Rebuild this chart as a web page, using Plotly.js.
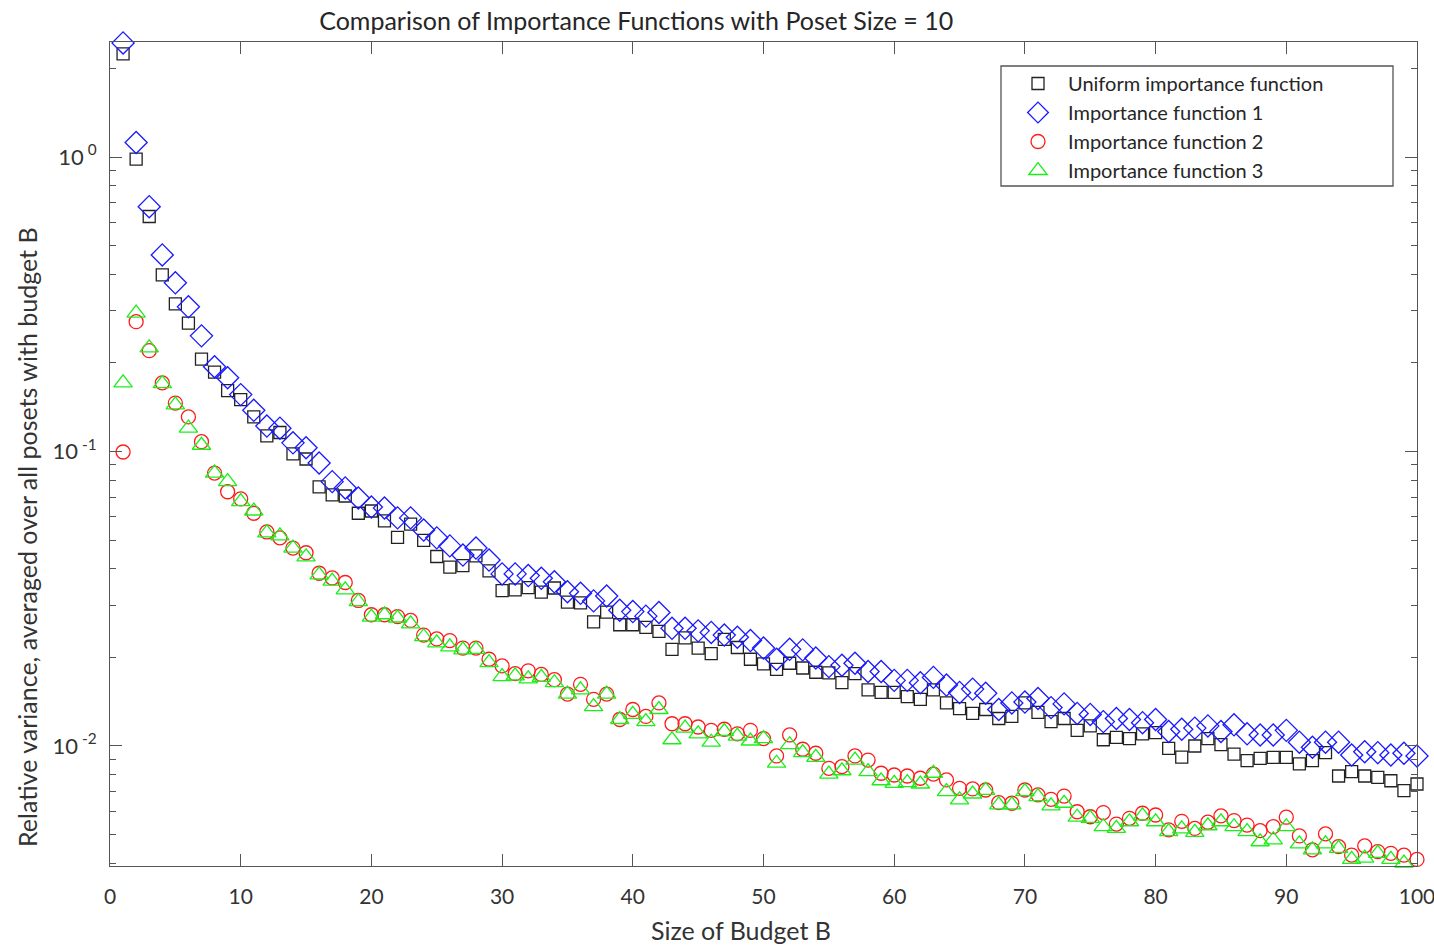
<!DOCTYPE html>
<html>
<head>
<meta charset="utf-8">
<script src="https://cdn.plot.ly/plotly-3.0.1.min.js"></script>
<style>html,body{margin:0;padding:0;background:#fff;}#chart{width:1434px;height:945px;}</style>
</head>
<body>
<div id="chart"></div>
<script>
const budget = [1,2,3,4,5,6,7,8,9,10,11,12,13,14,15,16,17,18,19,20,21,22,23,24,25,26,27,28,29,30,31,32,33,34,35,36,37,38,39,40,41,42,43,44,45,46,47,48,49,50,51,52,53,54,55,56,57,58,59,60,61,62,63,64,65,66,67,68,69,70,71,72,73,74,75,76,77,78,79,80,81,82,83,84,85,86,87,88,89,90,91,92,93,94,95,96,97,98,99,100];

const uniformIF = [2.24,0.984,0.628,0.398,0.317,0.273,0.206,0.186,0.161,0.150,
0.131,0.113,0.116,0.0981,0.0943,0.0758,0.0712,0.0706,0.0617,0.0628,
0.0581,0.0511,0.0567,0.0499,0.0440,0.0405,0.0410,0.0442,0.0393,0.0337,
0.0339,0.0345,0.0333,0.0344,0.0308,0.0306,0.0264,0.0285,0.0258,0.0258,
0.0253,0.0245,0.0213,0.0233,0.0215,0.0206,0.0230,0.0216,0.0197,0.0190,
0.0182,0.0191,0.0184,0.0178,0.0177,0.0164,0.0176,0.0155,0.0152,0.0152,
0.0147,0.0144,0.0155,0.0140,0.0134,0.0129,0.0133,0.0124,0.0126,0.0140,
0.0130,0.0121,0.0124,0.0113,0.0117,0.0105,0.0107,0.0106,0.0110,0.0111,
0.00982,0.00917,0.0100,0.0106,0.0101,0.00939,0.00892,0.00908,0.00915,0.00915,
0.00869,0.00892,0.00949,0.00791,0.00818,0.00791,0.00783,0.00762,0.00705,0.00743];

const importance1 = [2.44,1.12,0.678,0.465,0.374,0.310,0.247,0.194,0.178,0.156,
0.138,0.122,0.120,0.107,0.103,0.0914,0.0790,0.0752,0.0695,0.0648,
0.0643,0.0595,0.0595,0.0541,0.0509,0.0478,0.0445,0.0470,0.0428,0.0384,
0.0384,0.0379,0.0371,0.0361,0.0334,0.0330,0.0311,0.0323,0.0289,0.0286,
0.0276,0.0284,0.0251,0.0251,0.0246,0.0243,0.0238,0.0234,0.0228,0.0215,
0.0197,0.0213,0.0212,0.0199,0.0186,0.0188,0.0191,0.0179,0.0179,0.0167,
0.0167,0.0164,0.0171,0.0161,0.0152,0.0156,0.0151,0.0133,0.0140,0.0141,
0.0145,0.0135,0.0139,0.0129,0.0128,0.0121,0.0124,0.0123,0.0120,0.0123,
0.0112,0.0114,0.0115,0.0117,0.0112,0.0118,0.0110,0.0109,0.0109,0.0113,
0.0103,0.00990,0.0103,0.0103,0.00932,0.00956,0.00949,0.00932,0.00945,0.00925];

const importance2 = [0.0996,0.276,0.220,0.171,0.146,0.131,0.108,0.0845,0.0730,0.0690,
0.0617,0.0533,0.0509,0.0470,0.0453,0.0386,0.0372,0.0359,0.0312,0.0279,
0.0279,0.0275,0.0267,0.0238,0.0231,0.0228,0.0215,0.0215,0.0197,0.0187,
0.0176,0.0180,0.0175,0.0168,0.0150,0.0162,0.0144,0.0150,0.0123,0.0133,
0.0126,0.0140,0.0119,0.0119,0.0116,0.0113,0.0114,0.0110,0.0113,0.0106,
0.00925,0.0109,0.00975,0.00945,0.00840,0.00851,0.00925,0.00896,0.00808,0.00797,
0.00791,0.00777,0.00803,0.00767,0.00718,0.00715,0.00709,0.00642,0.00639,0.00709,
0.00682,0.00659,0.00676,0.00598,0.00575,0.00594,0.00543,0.00568,0.00591,0.00583,
0.00519,0.00555,0.00525,0.00551,0.00579,0.00558,0.00539,0.00516,0.00532,0.00573,
0.00495,0.00444,0.00503,0.00455,0.00426,0.00458,0.00438,0.00432,0.00426,0.00412];

const importance3 = [0.171,0.295,0.225,0.170,0.144,0.120,0.105,0.0845,0.0790,0.0676,
0.0628,0.0529,0.0517,0.0470,0.0439,0.0381,0.0363,0.0339,0.0309,0.0274,
0.0279,0.0272,0.0260,0.0235,0.0224,0.0217,0.0212,0.0213,0.0192,0.0172,
0.0173,0.0169,0.0171,0.0164,0.0150,0.0155,0.0136,0.0150,0.0123,0.0128,
0.0121,0.0133,0.0105,0.0115,0.0110,0.0103,0.0112,0.0108,0.0104,0.0106,
0.00874,0.0101,0.00949,0.00915,0.00803,0.00824,0.00896,0.00818,0.00762,0.00747,
0.00751,0.00743,0.00808,0.00700,0.00656,0.00687,0.00707,0.00631,0.00631,0.00700,
0.00673,0.00626,0.00639,0.00573,0.00568,0.00532,0.00525,0.00553,0.00579,0.00553,
0.00512,0.00523,0.00509,0.00536,0.00553,0.00532,0.00512,0.00473,0.00480,0.00532,
0.00465,0.00444,0.00465,0.00449,0.00412,0.00416,0.00432,0.00412,0.00400,0.00389];

const seriesNames = ["Uniform importance function","Importance function 1","Importance function 2","Importance function 3"];
const xTickVals = [0,10,20,30,40,50,60,70,80,90,100];
const yTickVals = [0.01,0.1,1];
const yTickText = ["10<sup> -2</sup>","10<sup> -1</sup>","10<sup> 0</sup>"];
const yMinorVals = [0.004,0.005,0.006,0.007,0.008,0.009,0.02,0.03,0.04,0.05,0.06,0.07,0.08,0.09,0.2,0.3,0.4,0.5,0.6,0.7,0.8,0.9,2];

const FONT = "Lato, 'Noto Sans', sans-serif";

function mk(y, name, symbol, color, size){
  return {x: budget, y: y, name: name, type: 'scatter', mode: 'markers', cliponaxis: false,
    marker: {symbol: symbol, size: size, color: color, line: {color: color, width: 1.3}},
    hoverinfo: 'skip'};
}

const data = [
  mk(uniformIF, seriesNames[0], 'square-open', '#222222', 12),
  mk(importance1, seriesNames[1], 'diamond-open', '#1a1aff', 17),
  mk(importance2, seriesNames[2], 'circle-open', '#ff1a1a', 14),
  mk(importance3, seriesNames[3], 'triangle-up-open', '#1aef1a', 16)
];

const layout = {
  width: 1434, height: 945,
  paper_bgcolor: '#ffffff', plot_bgcolor: '#ffffff',
  margin: {l: 110, r: 17, t: 42, b: 79},
  font: {family: FONT, color: '#333333', size: 20},
  title: {text: 'Comparison of Importance Functions with Poset Size = 10',
    font: {family: FONT, size: 25, color: '#262626'},
    x: 0.4437, xref: 'container', xanchor: 'center', y: 0.978, yref: 'container', yanchor: 'middle'},
  xaxis: {
    range: [0, 100], tickmode: 'array', tickvals: xTickVals,
    ticks: 'inside', ticklen: 12, tickwidth: 1, tickcolor: '#555',
    showline: true, linecolor: '#555', linewidth: 1, mirror: 'ticks',
    showgrid: false, zeroline: false,
    tickfont: {family: FONT, size: 21, color: '#333'},
    ticklabelstandoff: 12, ticklabeloverflow: 'allow',
    title: {text: ''}
  },
  yaxis: {
    type: 'log', range: [-2.4075, 0.3905],
    tickmode: 'array', tickvals: yTickVals, ticktext: yTickText,
    ticks: 'inside', ticklen: 12, tickwidth: 1, tickcolor: '#555',
    minor: {tickmode: 'array', tickvals: yMinorVals, ticks: 'inside', ticklen: 6, tickcolor: '#555', showgrid: false},
    showline: true, linecolor: '#555', linewidth: 1, mirror: 'ticks',
    showgrid: false, zeroline: false,
    tickfont: {family: FONT, size: 22, color: '#333'},
    ticklabelstandoff: 8,
    title: {text: ''}
  },
  annotations: [
    {text: 'Size of Budget B', xref: 'paper', yref: 'paper',
     x: (741 - 110) / 1307, y: -(930 - 866) / 824, xanchor: 'center', yanchor: 'middle',
     showarrow: false, font: {family: FONT, size: 25, color: '#333'}},
    {text: 'Relative variance, averaged over all posets with budget B', xref: 'paper', yref: 'paper',
     x: -(110 - 27) / 1307, y: (866 - 537) / 824, xanchor: 'center', yanchor: 'middle', textangle: -90,
     showarrow: false, font: {family: FONT, size: 25, color: '#333'}}
  ],
  shapes: [
    {type: 'rect', xref: 'paper', yref: 'paper', layer: 'above',
     x0: (1001 - 110) / 1307, x1: (1393 - 110) / 1307,
     y0: (866 - 66) / 824, y1: (866 - 186) / 824,
     line: {color: '#555', width: 1.3}, fillcolor: 'rgba(0,0,0,0)'}
  ],
  legend: {
    x: (1008 - 110) / 1307, y: (866 - 64) / 824, xanchor: 'left', yanchor: 'top',
    bgcolor: 'rgba(0,0,0,0)', borderwidth: 0,
    font: {family: FONT, size: 20, color: '#262626'},
    itemwidth: 50, tracegroupgap: 0
  },
  showlegend: true
};

Plotly.newPlot('chart', data, layout, {displayModeBar: false, staticPlot: true});
</script>
</body>
</html>
